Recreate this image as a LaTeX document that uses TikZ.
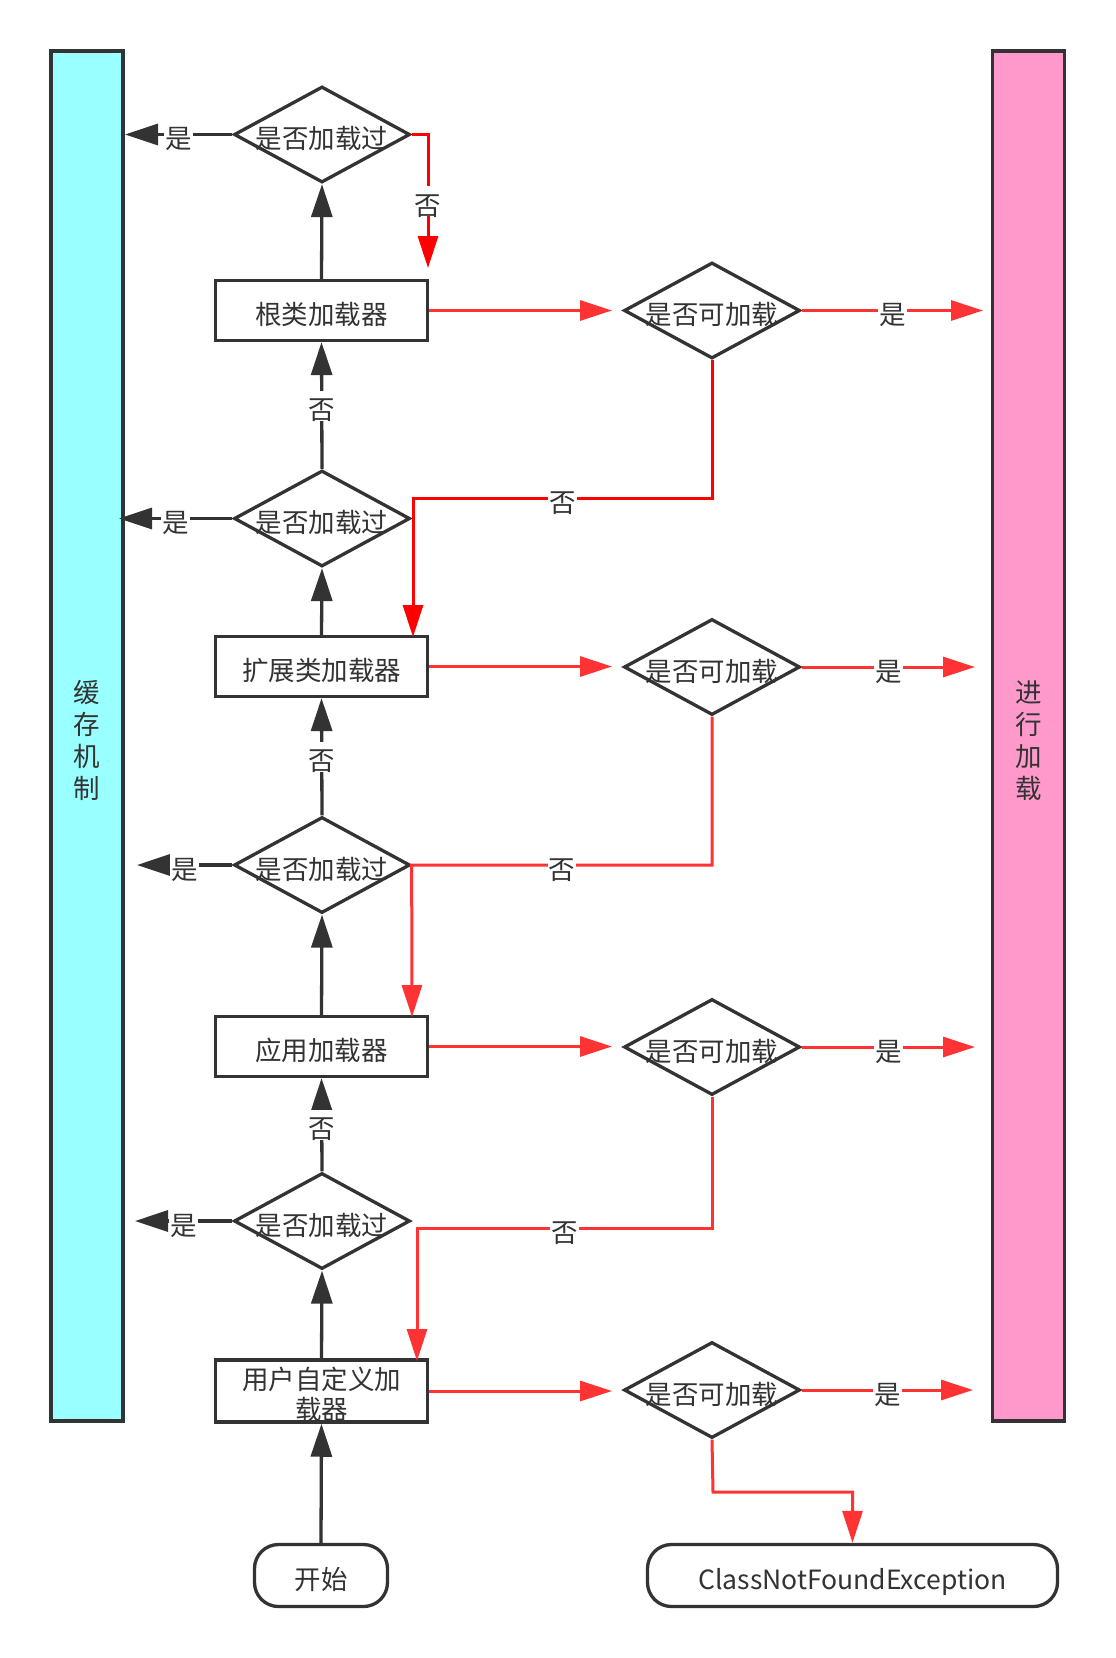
\documentclass[tikz,border=0pt]{standalone}
\usepackage{fontspec}
\setmainfont{Noto Sans CJK SC}
\usetikzlibrary{arrows.meta,shapes.geometric}
\definecolor{ink}{HTML}{333333}
\definecolor{rA}{HTML}{FF0000}
\definecolor{rB}{HTML}{FF3333}
\definecolor{cyanfill}{HTML}{99FFFF}
\definecolor{pinkfill}{HTML}{FF99CC}
\tikzset{
  base/.style={text=ink, font=\fontsize{26.5}{30}\selectfont},
  oneline/.style={text height=28pt, text depth=0pt},
  bar/.style={base, draw=ink, line width=3.5pt, minimum width=72pt, minimum height=1370pt, align=center, font=\fontsize{26.5}{32}\selectfont},
  box/.style={base, draw=ink, line width=3.3pt, minimum width=212pt, minimum height=60pt, inner sep=0pt, fill=white, align=center},
  dia/.style={base, oneline, diamond, draw=ink, line width=3.3pt, minimum width=176pt, minimum height=96pt, inner sep=0pt, fill=white},
  term/.style={base, oneline, draw=ink, line width=3.3pt, rounded corners=24pt, minimum height=62pt, inner sep=0pt},
  lbl/.style={base, oneline, fill=white, inner sep=1pt},
  blk/.style={draw=ink, line width=3.3pt, -{Triangle[length=33pt,width=21pt]}},
  rda/.style={draw=rA, line width=3pt, -{Triangle[length=32pt,width=20pt]}},
  rdb/.style={draw=rB, line width=3pt, -{Triangle[length=32pt,width=20pt]}},
}
\begin{document}
\begin{tikzpicture}[x=1pt,y=-1pt]
\path[use as bounding box] (0,0) rectangle (1116,1658);

% side bars
\node[bar, fill=cyanfill] (cache) at (87,736) {\rule{0pt}{31pt}缓\\存\\机\\制};
\node[bar, fill=pinkfill] (load) at (1028.5,736) {\rule{0pt}{31pt}进\\行\\加\\载};

% loaders
\node[box, oneline] (b1) at (321.5,310.5) {根类加载器};
\node[box, oneline] (b2) at (321.5,666.5) {扩展类加载器};
\node[box, oneline] (b3) at (321.5,1046.5) {应用加载器};
\node[box] (b4) at (321.5,1391) {\rule{0pt}{30pt}用户自定义加\\载器};

% "loaded before?" diamonds
\node[dia] (h1) at (322,134.5) {\makebox[0pt]{是否加载过}};
\node[dia] (h2) at (322,518.5) {\makebox[0pt]{是否加载过}};
\node[dia] (h3) at (322,865) {\makebox[0pt]{是否加载过}};
\node[dia] (h4) at (322,1221) {\makebox[0pt]{是否加载过}};

% "can load?" diamonds
\node[dia] (c1) at (712,310.5) {\makebox[0pt]{是否可加载}};
\node[dia] (c2) at (712,667) {\makebox[0pt]{是否可加载}};
\node[dia] (c3) at (712,1047) {\makebox[0pt]{是否可加载}};
\node[dia] (c4) at (712,1390) {\makebox[0pt]{是否可加载}};

% terminals
\node[term, minimum width=133pt] (start) at (321,1575.5) {开始};
\node[term, minimum width=410pt] (cnf) at (852.5,1575.5) {ClassNotFoundException};

% free ends
\coordinate (y1) at (125,134.5);
\coordinate (y2) at (119,518.5);
\coordinate (y3) at (137,865);
\coordinate (y4) at (135,1221);
\coordinate (a1) at (612,310.5);
\coordinate (a2) at (612,666.5);
\coordinate (a3) at (612,1046.5);
\coordinate (a4) at (612,1391);
\coordinate (e1) at (983,310.5);
\coordinate (e2) at (975,667);
\coordinate (e3) at (975,1047);
\coordinate (e4) at (973,1390);
\coordinate (r0) at (428,268);
\coordinate (k1) at (413,498);
\coordinate (t1) at (413,637);
\coordinate (t2) at (412,1017);
\coordinate (k3) at (417,1228);
\coordinate (t3) at (417,1361);
\coordinate (k4) at (713,1492);

% upward black flow
\draw[blk] (start.north) -- (b4.south);
\draw[blk] (b4.north) -- (h4.south);
\draw[blk] (h4.north) -- node[lbl]{否} (b3.south);
\draw[blk] (b3.north) -- (h3.south);
\draw[blk] (h3.north) -- node[lbl]{否} (b2.south);
\draw[blk] (b2.north) -- (h2.south);
\draw[blk] (h2.north) -- node[lbl]{否} (b1.south);
\draw[blk] (b1.north) -- (h1.south);

% yes -> cache
\draw[blk] (h1.west) -- node[lbl]{是} (y1);
\draw[blk] (h2.west) -- node[lbl]{是} (y2);
\draw[blk] (h3.west) -- node[lbl]{是} (y3);
\draw[blk] (h4.west) -- node[lbl]{是} (y4);

% top: not loaded -> root loader
\draw[rda] (h1.east) -| node[lbl, pos=0.75]{否} (r0);

% loader -> can load?
\draw[rdb] (b1.east) -- (a1);
\draw[rdb] (b2.east) -- (a2);
\draw[rdb] (b3.east) -- (a3);
\draw[rdb] (b4.east) -- (a4);

% can load -> load
\draw[rdb] (c1.east) -- node[lbl]{是} (e1);
\draw[rdb] (c2.east) -- node[lbl]{是} (e2);
\draw[rdb] (c3.east) -- node[lbl]{是} (e3);
\draw[rdb] (c4.east) -- node[lbl]{是} (e4);

% cannot load -> child loader
\draw[rda] (c1.south) |- node[lbl, pos=0.75]{否} (k1) -- (t1);
\draw[rdb] (c2.south) |- node[lbl, pos=0.75]{否} (h3.east) -- (t2);
\draw[rdb] (c3.south) |- node[lbl, pos=0.75]{否} (k3) -- (t3);
\draw[rdb] (c4.south) -- (k4) -| (cnf.north);
\end{tikzpicture}
\end{document}
